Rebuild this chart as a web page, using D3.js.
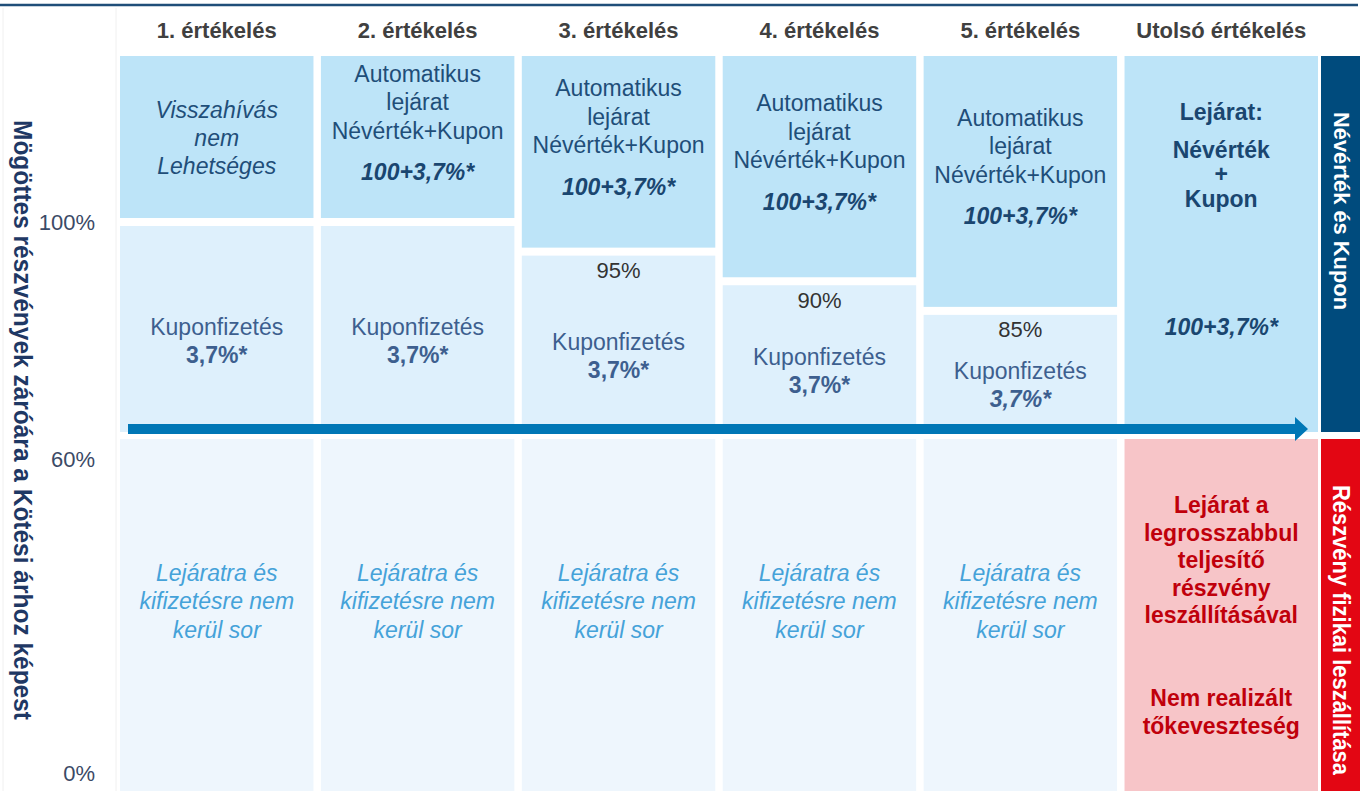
<!DOCTYPE html>
<html>
<head>
<meta charset="utf-8">
<script src="https://cdn.jsdelivr.net/npm/d3@7"></script>
<style>
body { margin: 0; background: #fff; }
svg { display: block; font-family: "Liberation Sans", Arial, sans-serif; }
</style>
</head>
<body>
<svg id="chart" width="1364" height="791"></svg>
<script>
var columns = ["1. értékelés", "2. értékelés", "3. értékelés", "4. értékelés", "5. értékelés", "Utolsó értékelés"];
var callLevels = [100, 100, 95, 90, 85, 60];
var levelLabels = ["", "", "95%", "90%", "85%", ""];
var callLines = [
  ["Visszahívás", "nem", "Lehetséges"],
  ["Automatikus", "lejárat", "Névérték+Kupon"],
  ["Automatikus", "lejárat", "Névérték+Kupon"],
  ["Automatikus", "lejárat", "Névérték+Kupon"],
  ["Automatikus", "lejárat", "Névérték+Kupon"]
];
var callAmounts = ["", "100+3,7%*", "100+3,7%*", "100+3,7%*", "100+3,7%*"];
var couponLabel = "Kuponfizetés";
var couponAmount = "3,7%*";
var noCallLines = ["Lejáratra és", "kifizetésre nem", "kerül sor"];
var finalHead = ["Lejárat:"];
var finalLines = ["Névérték", "+", "Kupon"];
var finalAmount = "100+3,7%*";
var deliveryLines = ["Lejárat a", "legrosszabbul", "teljesítő", "részvény", "leszállításával"];
var lossLines = ["Nem realizált", "tőkeveszteség"];
var yTicks = [0, 60, 100];
var yTickLabels = ["0%", "60%", "100%"];
var yTitle = "Mögöttes részvények záróára a Kötési árhoz képest";
var sideLabels = ["Névérték és Kupon", "Részvény fizikai leszállítása"];
var barrier = 60;

d3.selection.prototype.attrAll = function(attrs) {
  var k;
  for (k in attrs) {
    if (Object.prototype.hasOwnProperty.call(attrs, k)) this.attr(k, attrs[k]);
  }
  return this;
};

var svg = d3.select("#chart");
var boxTop = 56, boxBottom = 795;

var x = d3.scaleBand().domain(columns).range([120, 1318]).paddingInner(0.037);
var bw = x.bandwidth();
var y = d3.scaleLinear().domain([0, 60, 100]).range([773, 459, 222]);

var arrowY = y(barrier) - 30;
var upperBottom = arrowY + 3;
var lowerTop = arrowY + 10;

// faint table lines + header rule
[3, 116].forEach(function(lx) {
  svg.append("line").attrAll({x1: lx, x2: lx, y1: 8, y2: 791, stroke: "#f0f0f0", "stroke-width": 1});
});
svg.append("line").attrAll({x1: 0, x2: 1358, y1: 5, y2: 5, stroke: "#1f4e79", "stroke-width": 2.5});

// column headers
svg.selectAll("text.head").data(columns).enter().append("text")
  .attrAll({class: "head", y: 30, "text-anchor": "middle", "dominant-baseline": "central",
    fill: "#404040", "font-size": 22, "font-weight": "bold"})
  .attr("x", function(d) { return x(d) + bw / 2; })
  .text(function(d) { return d; });

// y ticks
svg.selectAll("text.ytick").data(yTicks).enter().append("text")
  .attrAll({class: "ytick", x: 95, "text-anchor": "end", "dominant-baseline": "central",
    fill: "#3b4a66", "font-size": 22})
  .attr("y", function(d) { return y(d); })
  .text(function(d, i) { return yTickLabels[i]; });

svg.append("text")
  .attrAll({transform: "translate(23,420) rotate(90)", "text-anchor": "middle", "dominant-baseline": "central",
    fill: "#1f3864", "font-size": 26, "font-weight": "bold", textLength: 600, lengthAdjust: "spacingAndGlyphs"})
  .text(yTitle);

var addLines = function(g, cx, cy, lines, spacing, style) {
  lines.forEach(function(t, i) {
    g.append("text")
      .attrAll(style)
      .attrAll({x: cx, y: cy + (i - (lines.length - 1) / 2) * spacing, "text-anchor": "middle", "dominant-baseline": "central"})
      .text(t);
  });
};

var callStyle = {fill: "#1f4e79", "font-size": 23};
var amountStyle = {fill: "#1a4670", "font-size": 23, "font-weight": "bold", "font-style": "italic"};
var couponStyle = {fill: "#3d5f8f", "font-size": 23};
var noCallStyle = {fill: "#45a2d9", "font-size": 23, "font-style": "italic"};
var redStyle = {fill: "#c0000b", "font-size": 23, "font-weight": "bold"};

columns.forEach(function(col, i) {
  var g = svg.append("g");
  var cx = x(col) + bw / 2;
  var lvl = y(callLevels[i]);
  var last = i === columns.length - 1;
  var mid, lowMid;

  if (!last) {
    g.append("rect").attrAll({x: x(col), y: boxTop, width: bw, height: lvl - 4 - boxTop, fill: "#bde4f8"});
    g.append("rect").attrAll({x: x(col), y: lvl + 4, width: bw, height: upperBottom - lvl - 4, fill: "#def0fc"});
    g.append("rect").attrAll({x: x(col), y: lowerTop, width: bw, height: boxBottom - lowerTop, fill: "#eef6fd"});

    mid = (boxTop + lvl - 4) / 2;
    if (callAmounts[i]) {
      addLines(g, cx, mid - 35, callLines[i], 28.5, callStyle);
      addLines(g, cx, mid + 35, [callAmounts[i]], 28, amountStyle);
    } else {
      addLines(g, cx, mid + 1, callLines[i], 28, {fill: "#1f4e79", "font-size": 23, "font-style": "italic"});
    }

    lowMid = (lvl + 4 + upperBottom) / 2;
    if (levelLabels[i]) {
      addLines(g, cx, lvl + 19, [levelLabels[i]], 28, {fill: "#333333", "font-size": 22});
    }
    addLines(g, cx, lowMid - 2, [couponLabel], 28, couponStyle);
    addLines(g, cx, lowMid + 26, [couponAmount], 28,
      {fill: "#3d5f8f", "font-size": 23, "font-weight": "bold", "font-style": i === 4 ? "italic" : "normal"});

    addLines(g, cx, (lowerTop + boxBottom) / 2 - 16, noCallLines, 28.5, noCallStyle);
  } else {
    g.append("rect").attrAll({x: x(col), y: boxTop, width: bw, height: upperBottom - boxTop, fill: "#bde4f8"});
    g.append("rect").attrAll({x: x(col), y: lowerTop, width: bw, height: boxBottom - lowerTop, fill: "#f7c5c8"});

    addLines(g, cx, boxTop + 56, finalHead, 28, {fill: "#1a4670", "font-size": 23, "font-weight": "bold"});
    addLines(g, cx, boxTop + 118, finalLines, 24.5, {fill: "#1a4670", "font-size": 23, "font-weight": "bold"});
    addLines(g, cx, boxTop + 271, [finalAmount], 28, amountStyle);

    addLines(g, cx, lowerTop + 121, deliveryLines, 27.5, redStyle);
    addLines(g, cx, lowerTop + 273, lossLines, 28, redStyle);
  }
});

// side bars
var sideX = x.range()[1] + 3;
svg.append("rect").attrAll({x: sideX, y: boxTop, width: 39, height: upperBottom - boxTop, fill: "#004b7d"});
svg.append("rect").attrAll({x: sideX, y: lowerTop, width: 39, height: boxBottom - lowerTop, fill: "#e30613"});
svg.append("text")
  .attrAll({transform: "translate(" + (sideX + 20) + "," + (boxTop + 155) + ") rotate(90)", "text-anchor": "middle",
    "dominant-baseline": "central", fill: "#ffffff", "font-size": 22, "font-weight": "bold",
    textLength: 198, lengthAdjust: "spacingAndGlyphs"})
  .text(sideLabels[0]);
svg.append("text")
  .attrAll({transform: "translate(" + (sideX + 20) + "," + (lowerTop + 191) + ") rotate(90)", "text-anchor": "middle",
    "dominant-baseline": "central", fill: "#ffffff", "font-size": 23, "font-weight": "bold",
    textLength: 290, lengthAdjust: "spacingAndGlyphs"})
  .text(sideLabels[1]);

// arrow along the barrier
var ax0 = x(columns[0]) + 8;
var tip = x(columns[5]) + bw - 10;
var arrowPath = d3.path();
arrowPath.moveTo(ax0, arrowY - 5);
arrowPath.lineTo(tip - 13, arrowY - 5);
arrowPath.lineTo(tip - 13, arrowY - 12);
arrowPath.lineTo(tip, arrowY);
arrowPath.lineTo(tip - 13, arrowY + 12);
arrowPath.lineTo(tip - 13, arrowY + 5);
arrowPath.lineTo(ax0, arrowY + 5);
arrowPath.closePath();
svg.append("path").attrAll({d: arrowPath.toString(), fill: "#0077b6"});
</script>
</body>
</html>
